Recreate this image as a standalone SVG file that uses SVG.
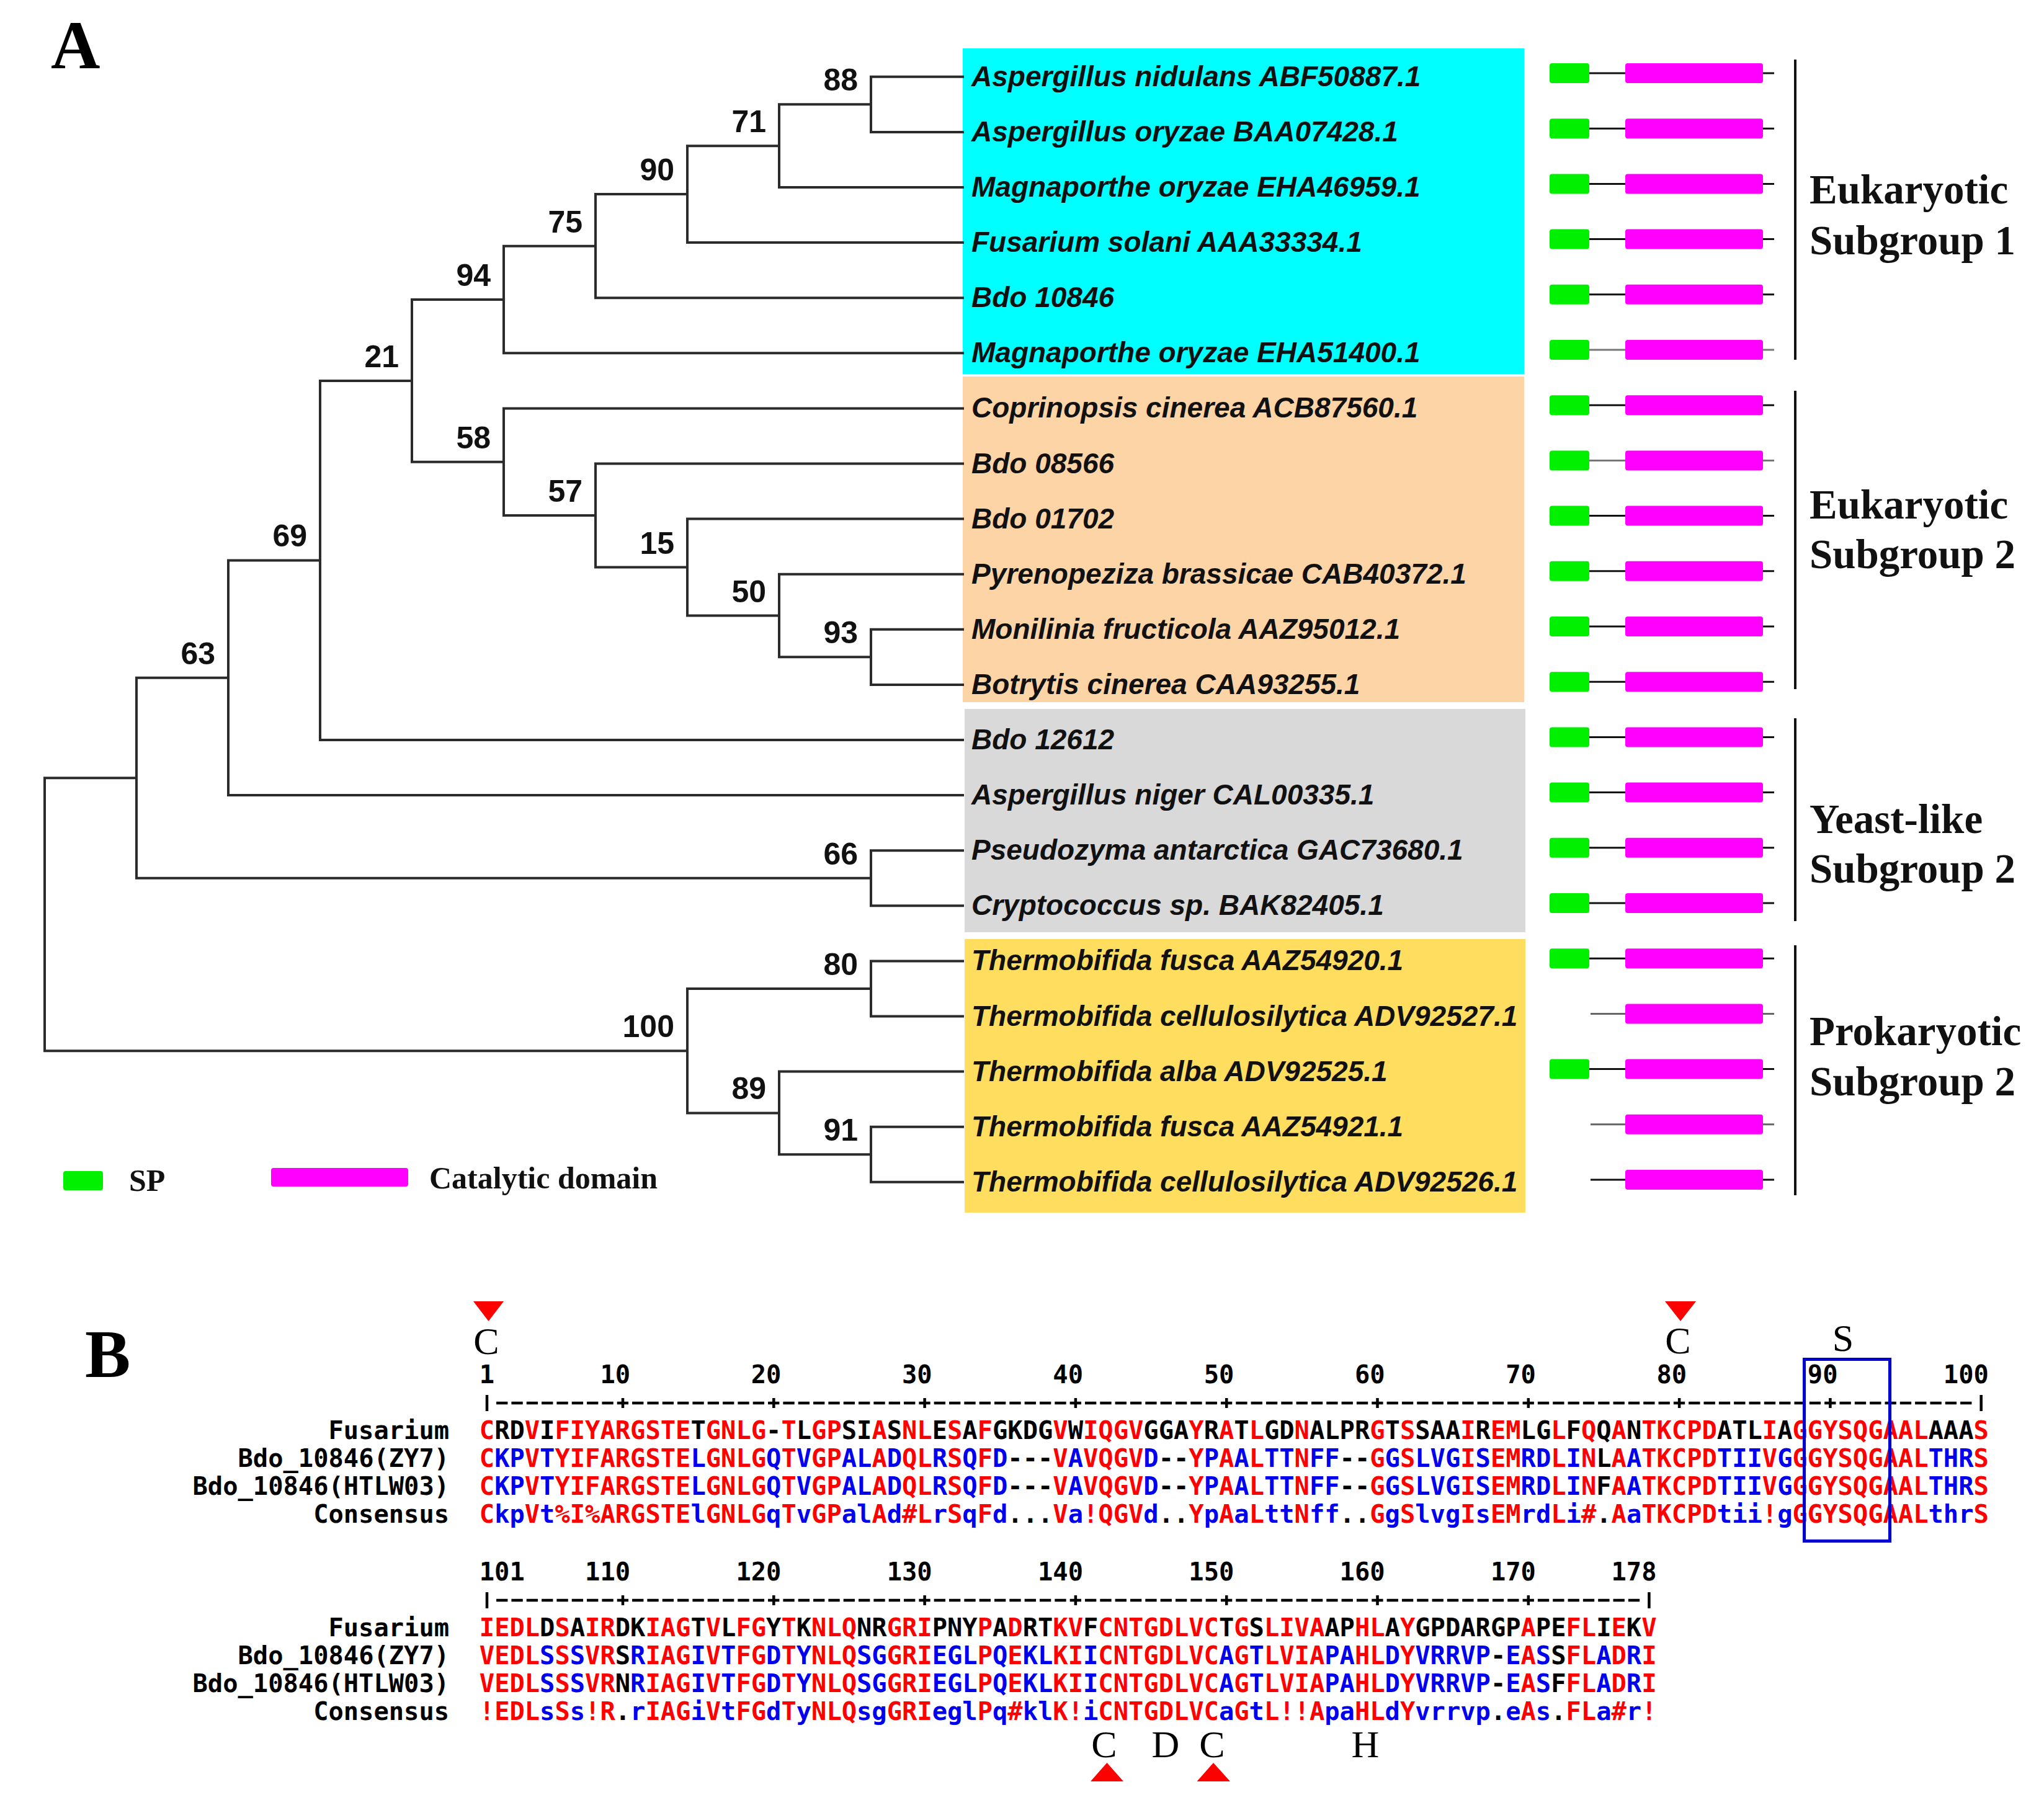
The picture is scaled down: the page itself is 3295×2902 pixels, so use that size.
<svg xmlns="http://www.w3.org/2000/svg" width="3295" height="2902" viewBox="0 0 3295 2902">
<style>
.tree{fill:none;stroke:#2b2b2b;stroke-width:4;stroke-linecap:square;stroke-linejoin:miter}
.bs{font-family:"Liberation Sans",Arial,sans-serif;font-weight:bold;font-size:50px;fill:#111;text-anchor:end}
.leaf{font-family:"Liberation Sans",Arial,sans-serif;font-weight:bold;font-style:italic;font-size:46px;fill:#111}
.grp{font-family:"Liberation Serif","Times New Roman",serif;font-weight:bold;font-size:67px;fill:#111}
.panel{font-family:"Liberation Serif","Times New Roman",serif;font-weight:bold;font-size:110px;fill:#000}
.leg{font-family:"Liberation Serif","Times New Roman",serif;font-weight:bold;font-size:50px;fill:#111}
.br{stroke:#111;stroke-width:4}
.mono{font-family:"DejaVu Sans Mono","Liberation Mono",monospace;font-weight:bold;font-size:40.41px;fill:#000}
.lab{text-anchor:end}
.r{fill:#ff0000}
.b{fill:#0000ee}
.mark{font-family:"Liberation Serif","Times New Roman",serif;font-size:62px;fill:#000;text-anchor:middle}
.tri{fill:#ff0000}
.rul{stroke:#000;stroke-width:4.5}
.dash{stroke:#000;stroke-width:4.5;stroke-dasharray:18.33 6}
</style>
<defs>
<g id="dsp"><line x1="2562" y1="0" x2="2860" y2="0" stroke-width="3"/><rect x="2498" y="-16" width="64" height="32" rx="4" fill="#00f000" stroke="none"/><rect x="2620" y="-16" width="222" height="32" rx="4" fill="#ff00ff" stroke="none"/></g>
<g id="dno"><line x1="2564" y1="0" x2="2860" y2="0" stroke-width="3"/><rect x="2620" y="-16" width="222" height="32" rx="4" fill="#ff00ff" stroke="none"/></g>
</defs>
<rect width="3295" height="2902" fill="#fff"/>

<g id="panel-A-label"><text class="panel" x="82" y="110">A</text></g>

<g id="clade-boxes">
<rect x="1552" y="78" width="905" height="525" fill="#00ffff"/>
<rect x="1552" y="607" width="905" height="525" fill="#fdd4a6"/>
<rect x="1555" y="1143" width="904" height="360" fill="#d9d9d9"/>
<rect x="1555" y="1514" width="904" height="441" fill="#ffdd5e"/>
</g>

<g id="connectors">
<path class="tree" d="M1552 123.8H1404V212.9H1552 M1404 168.35H1256V302H1552 M1256 235.2H1108V391.1H1552 M1108 313.1H960V480.2H1552 M960 396.7H812V569.3H1552 M812 483H664V744.7H812 M1552 658.4H812V831H960 M1552 747.5H960V914.6H1108 M1552 836.6H1108V992.5H1256 M1552 925.7H1256V1059.35H1404 M1552 1014.8H1404V1103.9H1552 M664 613.9H516V1193H1552 M516 903.4H368V1282.1H1552 M368 1092.8H220V1415.75H1404 M1552 1371.2H1404V1460.3H1552 M220 1254.3H72V1694.2H1108 M1404 1593.95H1108V1794.4H1256 M1552 1549.4H1404V1638.5H1552 M1552 1727.6H1256V1861.25H1404 M1552 1816.7H1404V1905.8H1552"/>
</g>

<g id="bootstrap">
<text class="bs" x="1383" y="146.4">88</text>
<text class="bs" x="1235" y="213.2">71</text>
<text class="bs" x="1087" y="291.1">90</text>
<text class="bs" x="939" y="374.7">75</text>
<text class="bs" x="791" y="461">94</text>
<text class="bs" x="643" y="591.9">21</text>
<text class="bs" x="791" y="722.7">58</text>
<text class="bs" x="939" y="809">57</text>
<text class="bs" x="1087" y="892.6">15</text>
<text class="bs" x="1235" y="970.5">50</text>
<text class="bs" x="1383" y="1037.4">93</text>
<text class="bs" x="495" y="881.4">69</text>
<text class="bs" x="347" y="1070.8">63</text>
<text class="bs" x="1383" y="1393.8">66</text>
<text class="bs" x="1383" y="1572">80</text>
<text class="bs" x="1087" y="1672.2">100</text>
<text class="bs" x="1235" y="1772.4">89</text>
<text class="bs" x="1383" y="1839.3">91</text>
</g>

<g id="leaf-0"><text class="leaf" x="1566" y="138.8">Aspergillus nidulans ABF50887.1</text><use href="#dsp" y="118" stroke="#111"/></g>
<g id="leaf-1"><text class="leaf" x="1566" y="227.9">Aspergillus oryzae BAA07428.1</text><use href="#dsp" y="207.2" stroke="#111"/></g>
<g id="leaf-2"><text class="leaf" x="1566" y="317">Magnaporthe oryzae EHA46959.1</text><use href="#dsp" y="296.4" stroke="#111"/></g>
<g id="leaf-3"><text class="leaf" x="1566" y="406.1">Fusarium solani AAA33334.1</text><use href="#dsp" y="385.6" stroke="#111"/></g>
<g id="leaf-4"><text class="leaf" x="1566" y="495.2">Bdo 10846</text><use href="#dsp" y="474.8" stroke="#111"/></g>
<g id="leaf-5"><text class="leaf" x="1566" y="584.3">Magnaporthe oryzae EHA51400.1</text><use href="#dsp" y="564" stroke="#777"/></g>
<g id="leaf-6"><text class="leaf" x="1566" y="673.4">Coprinopsis cinerea ACB87560.1</text><use href="#dsp" y="653.2" stroke="#111"/></g>
<g id="leaf-7"><text class="leaf" x="1566" y="762.5">Bdo 08566</text><use href="#dsp" y="742.4" stroke="#777"/></g>
<g id="leaf-8"><text class="leaf" x="1566" y="851.6">Bdo 01702</text><use href="#dsp" y="831.6" stroke="#111"/></g>
<g id="leaf-9"><text class="leaf" x="1566" y="940.7">Pyrenopeziza brassicae CAB40372.1</text><use href="#dsp" y="920.8" stroke="#111"/></g>
<g id="leaf-10"><text class="leaf" x="1566" y="1029.8">Monilinia fructicola AAZ95012.1</text><use href="#dsp" y="1010" stroke="#111"/></g>
<g id="leaf-11"><text class="leaf" x="1566" y="1118.9">Botrytis cinerea CAA93255.1</text><use href="#dsp" y="1099.2" stroke="#111"/></g>
<g id="leaf-12"><text class="leaf" x="1566" y="1208">Bdo 12612</text><use href="#dsp" y="1188.4" stroke="#111"/></g>
<g id="leaf-13"><text class="leaf" x="1566" y="1297.1">Aspergillus niger CAL00335.1</text><use href="#dsp" y="1277.6" stroke="#111"/></g>
<g id="leaf-14"><text class="leaf" x="1566" y="1386.2">Pseudozyma antarctica GAC73680.1</text><use href="#dsp" y="1366.8" stroke="#111"/></g>
<g id="leaf-15"><text class="leaf" x="1566" y="1475.3">Cryptococcus sp. BAK82405.1</text><use href="#dsp" y="1456" stroke="#111"/></g>
<g id="leaf-16"><text class="leaf" x="1566" y="1564.4">Thermobifida fusca AAZ54920.1</text><use href="#dsp" y="1545.2" stroke="#111"/></g>
<g id="leaf-17"><text class="leaf" x="1566" y="1653.5">Thermobifida cellulosilytica ADV92527.1</text><use href="#dno" y="1634.4" stroke="#666"/></g>
<g id="leaf-18"><text class="leaf" x="1566" y="1742.6">Thermobifida alba ADV92525.1</text><use href="#dsp" y="1723.6" stroke="#111"/></g>
<g id="leaf-19"><text class="leaf" x="1566" y="1831.7">Thermobifida fusca AAZ54921.1</text><use href="#dno" y="1812.8" stroke="#666"/></g>
<g id="leaf-20"><text class="leaf" x="1566" y="1920.8">Thermobifida cellulosilytica ADV92526.1</text><use href="#dno" y="1902" stroke="#111"/></g>

<g id="group-eukaryotic-1"><line class="br" x1="2894" y1="96" x2="2894" y2="580"/><text class="grp" x="2917" y="328">Eukaryotic</text><text class="grp" x="2917" y="410">Subgroup 1</text></g>
<g id="group-eukaryotic-2"><line class="br" x1="2894" y1="630" x2="2894" y2="1111"/><text class="grp" x="2917" y="836">Eukaryotic</text><text class="grp" x="2917" y="916">Subgroup 2</text></g>
<g id="group-yeast-like"><line class="br" x1="2894" y1="1158" x2="2894" y2="1485"/><text class="grp" x="2917" y="1343">Yeast-like</text><text class="grp" x="2917" y="1423">Subgroup 2</text></g>
<g id="group-prokaryotic"><line class="br" x1="2894" y1="1524" x2="2894" y2="1927"/><text class="grp" x="2917" y="1685">Prokaryotic</text><text class="grp" x="2917" y="1766">Subgroup 2</text></g>

<g id="legend">
<rect x="102" y="1888" width="64" height="31" rx="4" fill="#00f000"/>
<text class="leg" x="208" y="1920">SP</text>
<rect x="437" y="1883" width="221" height="30" rx="4" fill="#ff00ff"/>
<text class="leg" x="692" y="1916">Catalytic domain</text>
</g>

<g id="panel-B-label"><text class="panel" x="137" y="2220">B</text></g>

<g id="markers">
<polygon class="tri" points="763,2098 812,2098 787.5,2130"/>
<polygon class="tri" points="2684,2098 2734,2098 2709,2130"/>
<text class="mark" x="784" y="2183">C</text>
<text class="mark" x="2705" y="2182">C</text>
<text class="mark" x="2971" y="2178">S</text>
<text class="mark" x="1780" y="2833">C</text>
<text class="mark" x="1879" y="2833">D</text>
<text class="mark" x="1954" y="2833">C</text>
<text class="mark" x="2201" y="2833">H</text>
<polygon class="tri" points="1758,2872 1811,2872 1784.5,2842"/>
<polygon class="tri" points="1929.5,2872 1983,2872 1956,2842"/>
</g>

<g id="ruler-1">
<text class="mono" y="2230"><tspan x="797.1" text-anchor="end">1</tspan></text>
<text class="mono" y="2230" text-anchor="end"><tspan x="1016.1">10</tspan><tspan x="1259.4">20</tspan><tspan x="1502.7">30</tspan><tspan x="1746">40</tspan><tspan x="1989.3">50</tspan><tspan x="2232.6">60</tspan><tspan x="2475.9">70</tspan><tspan x="2719.2">80</tspan><tspan x="2962.5">90</tspan><tspan x="3205.8">100</tspan></text>
<line class="dash" x1="800.1" y1="2262" x2="3178.5" y2="2262"/>
<line class="rul" x1="785" y1="2249" x2="785" y2="2275"/>
<line class="rul" x1="3193.7" y1="2249" x2="3193.7" y2="2275"/>
<path class="rul" d="M1004 2254V2270M1247.3 2254V2270M1490.6 2254V2270M1733.9 2254V2270M1977.2 2254V2270M2220.5 2254V2270M2463.8 2254V2270M2707.1 2254V2270M2950.4 2254V2270"/>
</g>

<g id="alignment-1">
<text class="mono lab" x="724.1" y="2320">Fusarium</text>
<text class="mono lab" x="724.1" y="2365">Bdo_10846(ZY7)</text>
<text class="mono lab" x="724.1" y="2410">Bdo_10846(HTLW03)</text>
<text class="mono lab" x="724.1" y="2455">Consensus</text>
<text class="mono" x="772.8" y="2320" textLength="2433" lengthAdjust="spacing"><tspan class="r">C</tspan>RD<tspan class="r">V</tspan>I<tspan class="r">FIYARGSTE</tspan>T<tspan class="r">GNLG</tspan>-<tspan class="r">T</tspan>L<tspan class="r">GP</tspan>SI<tspan class="r">A</tspan>S<tspan class="r">NL</tspan>E<tspan class="r">S</tspan>A<tspan class="r">F</tspan>GKDG<tspan class="r">V</tspan>W<tspan class="r">IQGV</tspan>GGA<tspan class="r">Y</tspan>R<tspan class="r">A</tspan>T<tspan class="r">L</tspan>GD<tspan class="r">N</tspan>ALPR<tspan class="r">G</tspan>T<tspan class="r">S</tspan>SAA<tspan class="r">I</tspan>R<tspan class="r">EM</tspan>LG<tspan class="r">L</tspan>F<tspan class="r">Q</tspan>Q<tspan class="r">A</tspan>N<tspan class="r">TKCPD</tspan>ATL<tspan class="r">I</tspan>A<tspan class="r">GGYSQGAAL</tspan>AAA<tspan class="r">S</tspan></text>
<text class="mono" x="772.8" y="2365" textLength="2433" lengthAdjust="spacing"><tspan class="r">C</tspan><tspan class="b">KP</tspan><tspan class="r">V</tspan><tspan class="b">T</tspan><tspan class="r">YIFARGSTE</tspan><tspan class="b">L</tspan><tspan class="r">GNLG</tspan><tspan class="b">Q</tspan><tspan class="r">T</tspan><tspan class="b">V</tspan><tspan class="r">GP</tspan><tspan class="b">AL</tspan><tspan class="r">A</tspan><tspan class="b">D</tspan><tspan class="r">QL</tspan><tspan class="b">R</tspan><tspan class="r">S</tspan><tspan class="b">Q</tspan><tspan class="r">F</tspan><tspan class="b">D</tspan>---<tspan class="r">V</tspan><tspan class="b">A</tspan><tspan class="r">VQGV</tspan><tspan class="b">D</tspan>--<tspan class="r">Y</tspan><tspan class="b">P</tspan><tspan class="r">A</tspan><tspan class="b">A</tspan><tspan class="r">L</tspan><tspan class="b">TT</tspan><tspan class="r">N</tspan><tspan class="b">FF</tspan>--<tspan class="r">G</tspan><tspan class="b">G</tspan><tspan class="r">S</tspan><tspan class="b">LVG</tspan><tspan class="r">I</tspan><tspan class="b">S</tspan><tspan class="r">EM</tspan><tspan class="b">RD</tspan><tspan class="r">L</tspan><tspan class="b">I</tspan><tspan class="r">N</tspan>L<tspan class="r">A</tspan><tspan class="b">A</tspan><tspan class="r">TKCPD</tspan><tspan class="b">TII</tspan><tspan class="r">V</tspan><tspan class="b">G</tspan><tspan class="r">GGYSQGAAL</tspan><tspan class="b">THR</tspan><tspan class="r">S</tspan></text>
<text class="mono" x="772.8" y="2410" textLength="2433" lengthAdjust="spacing"><tspan class="r">C</tspan><tspan class="b">KP</tspan><tspan class="r">V</tspan><tspan class="b">T</tspan><tspan class="r">YIFARGSTE</tspan><tspan class="b">L</tspan><tspan class="r">GNLG</tspan><tspan class="b">Q</tspan><tspan class="r">T</tspan><tspan class="b">V</tspan><tspan class="r">GP</tspan><tspan class="b">AL</tspan><tspan class="r">A</tspan><tspan class="b">D</tspan><tspan class="r">QL</tspan><tspan class="b">R</tspan><tspan class="r">S</tspan><tspan class="b">Q</tspan><tspan class="r">F</tspan><tspan class="b">D</tspan>---<tspan class="r">V</tspan><tspan class="b">A</tspan><tspan class="r">VQGV</tspan><tspan class="b">D</tspan>--<tspan class="r">Y</tspan><tspan class="b">P</tspan><tspan class="r">A</tspan><tspan class="b">A</tspan><tspan class="r">L</tspan><tspan class="b">TT</tspan><tspan class="r">N</tspan><tspan class="b">FF</tspan>--<tspan class="r">G</tspan><tspan class="b">G</tspan><tspan class="r">S</tspan><tspan class="b">LVG</tspan><tspan class="r">I</tspan><tspan class="b">S</tspan><tspan class="r">EM</tspan><tspan class="b">RD</tspan><tspan class="r">L</tspan><tspan class="b">I</tspan><tspan class="r">N</tspan>F<tspan class="r">A</tspan><tspan class="b">A</tspan><tspan class="r">TKCPD</tspan><tspan class="b">TII</tspan><tspan class="r">V</tspan><tspan class="b">G</tspan><tspan class="r">GGYSQGAAL</tspan><tspan class="b">THR</tspan><tspan class="r">S</tspan></text>
<text class="mono" x="772.8" y="2455" textLength="2433" lengthAdjust="spacing"><tspan class="r">C</tspan><tspan class="b">kp</tspan><tspan class="r">V</tspan><tspan class="b">t</tspan><tspan class="r">%I%ARGSTE</tspan><tspan class="b">l</tspan><tspan class="r">GNLG</tspan><tspan class="b">q</tspan><tspan class="r">T</tspan><tspan class="b">v</tspan><tspan class="r">GP</tspan><tspan class="b">al</tspan><tspan class="r">A</tspan><tspan class="b">d</tspan><tspan class="r">#L</tspan><tspan class="b">r</tspan><tspan class="r">S</tspan><tspan class="b">q</tspan><tspan class="r">F</tspan><tspan class="b">d</tspan>...<tspan class="r">V</tspan><tspan class="b">a</tspan><tspan class="r">!QGV</tspan><tspan class="b">d</tspan>..<tspan class="r">Y</tspan><tspan class="b">p</tspan><tspan class="r">A</tspan><tspan class="b">a</tspan><tspan class="r">L</tspan><tspan class="b">tt</tspan><tspan class="r">N</tspan><tspan class="b">ff</tspan>..<tspan class="r">G</tspan><tspan class="b">g</tspan><tspan class="r">S</tspan><tspan class="b">lvg</tspan><tspan class="r">I</tspan><tspan class="b">s</tspan><tspan class="r">EM</tspan><tspan class="b">rd</tspan><tspan class="r">L</tspan><tspan class="b">i</tspan><tspan class="r">#</tspan>.<tspan class="r">A</tspan><tspan class="b">a</tspan><tspan class="r">TKCPD</tspan><tspan class="b">tii</tspan><tspan class="r">!</tspan><tspan class="b">g</tspan><tspan class="r">GGYSQGAAL</tspan><tspan class="b">thr</tspan><tspan class="r">S</tspan></text>
</g>

<g id="motif-box"><rect x="2908.5" y="2191.5" width="138" height="293" fill="none" stroke="#0000cc" stroke-width="5"/></g>

<g id="ruler-2">
<text class="mono" x="772.8" y="2548">101</text>
<text class="mono" y="2548" text-anchor="end"><tspan x="1016.1">110</tspan><tspan x="1259.4">120</tspan><tspan x="1502.7">130</tspan><tspan x="1746">140</tspan><tspan x="1989.3">150</tspan><tspan x="2232.6">160</tspan><tspan x="2475.9">170</tspan><tspan x="2670.5">178</tspan></text>
<line class="dash" x1="800.1" y1="2580" x2="2643.2" y2="2580"/>
<line class="rul" x1="785" y1="2567" x2="785" y2="2593"/>
<line class="rul" x1="2658.4" y1="2567" x2="2658.4" y2="2593"/>
<path class="rul" d="M1004 2572V2588M1247.3 2572V2588M1490.6 2572V2588M1733.9 2572V2588M1977.2 2572V2588M2220.5 2572V2588M2463.8 2572V2588"/>
</g>

<g id="alignment-2">
<text class="mono lab" x="724.1" y="2638">Fusarium</text>
<text class="mono lab" x="724.1" y="2683">Bdo_10846(ZY7)</text>
<text class="mono lab" x="724.1" y="2728">Bdo_10846(HTLW03)</text>
<text class="mono lab" x="724.1" y="2773">Consensus</text>
<text class="mono" x="772.8" y="2638" textLength="1897.7" lengthAdjust="spacing"><tspan class="r">IEDL</tspan>D<tspan class="r">S</tspan>A<tspan class="r">IR</tspan>DK<tspan class="r">IAG</tspan>T<tspan class="r">V</tspan>L<tspan class="r">FG</tspan>Y<tspan class="r">T</tspan>K<tspan class="r">NLQ</tspan>NR<tspan class="r">GRI</tspan>PNY<tspan class="r">P</tspan>A<tspan class="r">D</tspan>RT<tspan class="r">KV</tspan>F<tspan class="r">CNTGDLVC</tspan>T<tspan class="r">G</tspan>S<tspan class="r">LIVA</tspan>AP<tspan class="r">HL</tspan>A<tspan class="r">Y</tspan>GPDARGP<tspan class="r">A</tspan>PE<tspan class="r">FL</tspan>I<tspan class="r">E</tspan>K<tspan class="r">V</tspan></text>
<text class="mono" x="772.8" y="2683" textLength="1897.7" lengthAdjust="spacing"><tspan class="r">VEDL</tspan><tspan class="b">S</tspan><tspan class="r">S</tspan><tspan class="b">S</tspan><tspan class="r">VR</tspan>S<tspan class="b">R</tspan><tspan class="r">IAG</tspan><tspan class="b">I</tspan><tspan class="r">V</tspan><tspan class="b">T</tspan><tspan class="r">FG</tspan><tspan class="b">D</tspan><tspan class="r">T</tspan><tspan class="b">Y</tspan><tspan class="r">NLQ</tspan><tspan class="b">SG</tspan><tspan class="r">GRI</tspan><tspan class="b">EGL</tspan><tspan class="r">P</tspan><tspan class="b">Q</tspan><tspan class="r">E</tspan><tspan class="b">KL</tspan><tspan class="r">KI</tspan><tspan class="b">I</tspan><tspan class="r">CNTGDLVC</tspan><tspan class="b">A</tspan><tspan class="r">G</tspan><tspan class="b">T</tspan><tspan class="r">LVIA</tspan><tspan class="b">PA</tspan><tspan class="r">HL</tspan><tspan class="b">D</tspan><tspan class="r">Y</tspan><tspan class="b">VRRVP</tspan>-<tspan class="b">E</tspan><tspan class="r">A</tspan><tspan class="b">S</tspan>S<tspan class="r">FL</tspan><tspan class="b">A</tspan><tspan class="r">D</tspan><tspan class="b">R</tspan><tspan class="r">I</tspan></text>
<text class="mono" x="772.8" y="2728" textLength="1897.7" lengthAdjust="spacing"><tspan class="r">VEDL</tspan><tspan class="b">S</tspan><tspan class="r">S</tspan><tspan class="b">S</tspan><tspan class="r">VR</tspan>N<tspan class="b">R</tspan><tspan class="r">IAG</tspan><tspan class="b">I</tspan><tspan class="r">V</tspan><tspan class="b">T</tspan><tspan class="r">FG</tspan><tspan class="b">D</tspan><tspan class="r">T</tspan><tspan class="b">Y</tspan><tspan class="r">NLQ</tspan><tspan class="b">SG</tspan><tspan class="r">GRI</tspan><tspan class="b">EGL</tspan><tspan class="r">P</tspan><tspan class="b">Q</tspan><tspan class="r">E</tspan><tspan class="b">KL</tspan><tspan class="r">KI</tspan><tspan class="b">I</tspan><tspan class="r">CNTGDLVC</tspan><tspan class="b">A</tspan><tspan class="r">G</tspan><tspan class="b">T</tspan><tspan class="r">LVIA</tspan><tspan class="b">PA</tspan><tspan class="r">HL</tspan><tspan class="b">D</tspan><tspan class="r">Y</tspan><tspan class="b">VRRVP</tspan>-<tspan class="b">E</tspan><tspan class="r">A</tspan><tspan class="b">S</tspan>F<tspan class="r">FL</tspan><tspan class="b">A</tspan><tspan class="r">D</tspan><tspan class="b">R</tspan><tspan class="r">I</tspan></text>
<text class="mono" x="772.8" y="2773" textLength="1897.7" lengthAdjust="spacing"><tspan class="r">!EDL</tspan><tspan class="b">s</tspan><tspan class="r">S</tspan><tspan class="b">s</tspan><tspan class="r">!R</tspan>.<tspan class="b">r</tspan><tspan class="r">IAG</tspan><tspan class="b">i</tspan><tspan class="r">V</tspan><tspan class="b">t</tspan><tspan class="r">FG</tspan><tspan class="b">d</tspan><tspan class="r">T</tspan><tspan class="b">y</tspan><tspan class="r">NLQ</tspan><tspan class="b">sg</tspan><tspan class="r">GRI</tspan><tspan class="b">egl</tspan><tspan class="r">P</tspan><tspan class="b">q</tspan><tspan class="r">#</tspan><tspan class="b">kl</tspan><tspan class="r">K!</tspan><tspan class="b">i</tspan><tspan class="r">CNTGDLVC</tspan><tspan class="b">a</tspan><tspan class="r">G</tspan><tspan class="b">t</tspan><tspan class="r">L!!A</tspan><tspan class="b">pa</tspan><tspan class="r">HL</tspan><tspan class="b">d</tspan><tspan class="r">Y</tspan><tspan class="b">vrrvp</tspan>.<tspan class="b">e</tspan><tspan class="r">A</tspan><tspan class="b">s</tspan>.<tspan class="r">FL</tspan><tspan class="b">a</tspan><tspan class="r">#</tspan><tspan class="b">r</tspan><tspan class="r">!</tspan></text>
</g>
</svg>
